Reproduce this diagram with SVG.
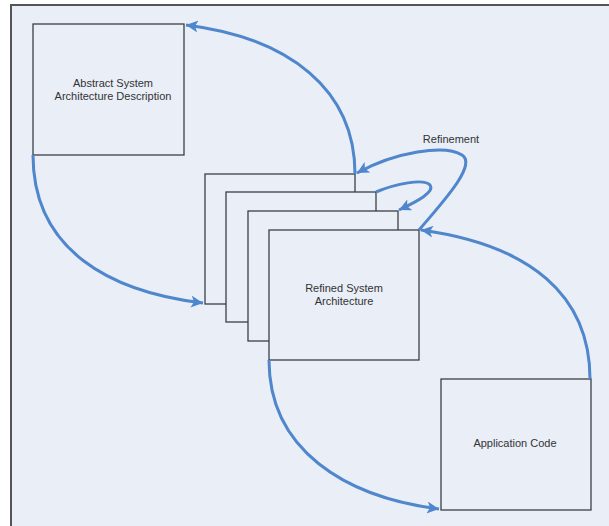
<svg xmlns="http://www.w3.org/2000/svg" width="609" height="526" viewBox="0 0 609 526">
<defs>
<style>
.box{fill:#e9eef7;stroke:#3c3f48;stroke-width:1.3}
.lbl{font-family:"Liberation Sans",Arial,sans-serif;font-size:11px;fill:#333;text-anchor:middle}
.con{fill:none;stroke:#4f86cc;stroke-width:3;marker-end:url(#ah)}
</style>
<marker id="ah" markerUnits="userSpaceOnUse" markerWidth="14" markerHeight="12" refX="12" refY="6" orient="auto">
<path d="M0,0 L12,6 L0,12 L3,6 Z" fill="#4f86cc"/>
</marker>
</defs>
<rect x="0" y="0" width="609" height="526" fill="#ffffff"/>
<rect x="11" y="5" width="620" height="540" fill="#e9eef7" stroke="#555" stroke-width="2"/>
<g id="abstract">
<rect class="box" x="33" y="24" width="151" height="131"/>
<text class="lbl" x="113" y="87">Abstract System</text>
<text class="lbl" x="113" y="100">Architecture Description</text>
</g>
<g id="refined1"><rect class="box" x="205" y="174" width="150" height="130"/></g>
<g id="refined2"><rect class="box" x="226" y="192" width="150" height="130"/></g>
<g id="refined3"><rect class="box" x="248" y="211" width="150" height="130"/></g>
<g id="refined">
<rect class="box" x="269" y="230" width="150" height="130"/>
<text class="lbl" x="344" y="292">Refined System</text>
<text class="lbl" x="344" y="305">Architecture</text>
</g>
<g id="appcode">
<rect class="box" x="441" y="379" width="150" height="131"/>
<text class="lbl" x="515" y="447">Application Code</text>
</g>
<text class="lbl" x="451" y="143">Refinement</text>
<g id="connectors">
<path class="con" d="M355,174 C355,90 290,38 186,25"/>
<path class="con" d="M33,155 C33,250 110,292 203,303"/>
<path class="con" d="M269,360 C269,450 345,497 439,509"/>
<path class="con" d="M590,379 C590,295 530,245 421,230"/>
<path class="con" d="M419,230 C440,205 478,165 462,155 C445,144 395,152 357,173"/>
<path class="con" d="M376,192 C395,184 424,178 430,185 C435,192 418,201 399,210"/>
</g>
</svg>
